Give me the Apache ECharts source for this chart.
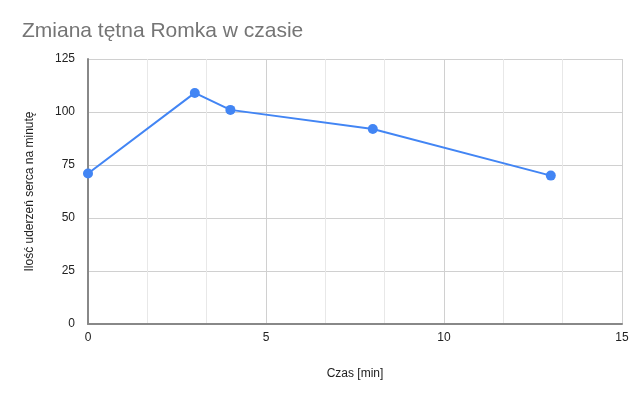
<!DOCTYPE html>
<html><head><meta charset="utf-8">
<script src="https://cdn.jsdelivr.net/npm/echarts@6/dist/echarts.min.js"></script>
<style>html,body{margin:0;padding:0;background:#fff}#c{width:640px;height:395px}</style>
</head><body><div id="c"></div>
<script>
const timeMin = [0, 3, 4, 8, 13];
const heartRate = [71, 109, 101, 92, 70];
const xTicks = [0, 5, 10, 15];
const yTicks = [0, 25, 50, 75, 100, 125];
const titleText = 'Zmiana tętna Romka w czasie';
const xName = 'Czas [min]';
const yName = 'Ilość uderzeń serca na minutę';

const chart = echarts.init(document.getElementById('c'), null, {renderer: 'canvas'});
const F = 'Liberation Sans, Arial, sans-serif';
chart.setOption({
  animation: false,
  title: {text: titleText, left: 17, top: 16, textStyle: {fontFamily: F, fontSize: 21, fontWeight: 'normal', color: '#757575'}},
  grid: {left: 88, right: 18, top: 59, bottom: 71},
  xAxis: {
    type: 'value', min: xTicks[0], max: xTicks[xTicks.length - 1], interval: 5,
    name: xName, nameLocation: 'middle', nameGap: 44,
    nameTextStyle: {fontFamily: F, fontSize: 12, color: '#222'},
    axisLine: {show: true, lineStyle: {color: '#888', width: 2}},
    axisTick: {show: false},
    axisLabel: {fontFamily: F, fontSize: 12, color: '#222', margin: 8},
    splitLine: {show: true, lineStyle: {color: '#d0d0d0'}},
    minorTick: {show: false, splitNumber: 3},
    minorSplitLine: {show: true, lineStyle: {color: '#e8e8e8'}}
  },
  yAxis: {
    type: 'value', min: yTicks[0], max: yTicks[yTicks.length - 1], interval: 25,
    name: yName, nameLocation: 'middle', nameGap: 52,
    nameTextStyle: {fontFamily: F, fontSize: 12, color: '#222'},
    axisLine: {show: true, lineStyle: {color: '#888', width: 2}},
    axisTick: {show: false},
    axisLabel: {fontFamily: F, fontSize: 12, color: '#222', margin: 13},
    splitLine: {show: true, lineStyle: {color: '#d0d0d0'}}
  },
  series: [{
    type: 'line',
    data: timeMin.map((t, i) => [t, heartRate[i]]),
    symbol: 'circle', symbolSize: 10,
    lineStyle: {color: '#4285f4', width: 2},
    itemStyle: {color: '#4285f4'}
  }]
});
</script></body></html>
